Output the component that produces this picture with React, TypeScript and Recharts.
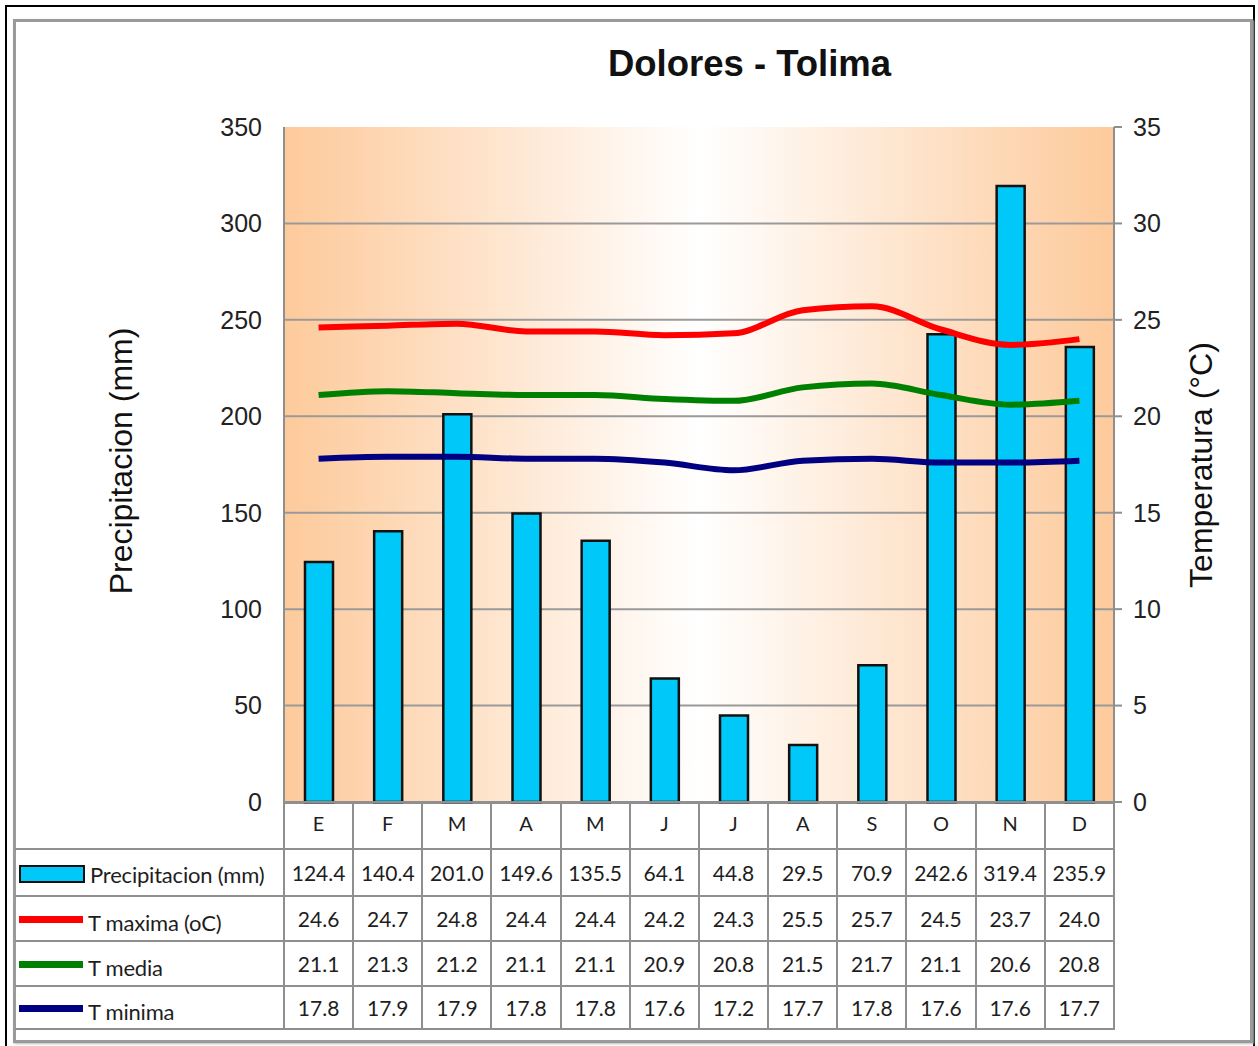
import React from 'react'
import {
  ComposedChart, Bar, Line, XAxis, YAxis, CartesianGrid,
} from 'recharts'

const MONTHS = ['E', 'F', 'M', 'A', 'M', 'J', 'J', 'A', 'S', 'O', 'N', 'D']
const PRECIP = [124.4, 140.4, 201.0, 149.6, 135.5, 64.1, 44.8, 29.5, 70.9, 242.6, 319.4, 235.9]
const T_MAX = [24.6, 24.7, 24.8, 24.4, 24.4, 24.2, 24.3, 25.5, 25.7, 24.5, 23.7, 24.0]
const T_MED = [21.1, 21.3, 21.2, 21.1, 21.1, 20.9, 20.8, 21.5, 21.7, 21.1, 20.6, 20.8]
const T_MIN = [17.8, 17.9, 17.9, 17.8, 17.8, 17.6, 17.2, 17.7, 17.8, 17.6, 17.6, 17.7]
const PRECIP_TICKS = [0, 50, 100, 150, 200, 250, 300, 350]
const TEMP_TICKS = [0, 5, 10, 15, 20, 25, 30, 35]

const data = MONTHS.map((m, i) => ({
  idx: i,
  month: m,
  precip: PRECIP[i],
  tmax: T_MAX[i],
  tmed: T_MED[i],
  tmin: T_MIN[i],
}))

const ROWS = [
  { name: 'Precipitacion (mm)', values: PRECIP, color: '#00c8f8', box: true },
  { name: 'T maxima (oC)', values: T_MAX, color: '#ff0000', box: false },
  { name: 'T media', values: T_MED, color: '#008000', box: false },
  { name: 'T minima', values: T_MIN, color: '#000080', box: false },
]

const PLOT_L = 284
const PLOT_R = 1114
const PLOT_T = 127
const PLOT_B = 802
const COL_W = (PLOT_R - PLOT_L) / MONTHS.length
const GRID = '#8f8f8f'
const SANS = '"Liberation Sans", Arial, sans-serif'
const TABLE_FONT = 'Lato, "Open Sans", sans-serif'

function DataTable() {
  const rowH = [46, 47, 45, 45, 43]
  const cell: React.CSSProperties = {
    border: `2px solid ${GRID}`,
    textAlign: 'center',
    padding: 0,
    fontSize: 21,
    color: '#1e1e1e',
  }
  return (
    <table
      style={{
        position: 'absolute', left: 15, top: PLOT_B, borderCollapse: 'collapse',
        tableLayout: 'fixed', fontFamily: TABLE_FONT,
      }}
    >
      <colgroup>
        <col style={{ width: PLOT_L - 15 }} />
        {MONTHS.map((_, i) => <col key={i} style={{ width: COL_W }} />)}
      </colgroup>
      <tbody>
        <tr style={{ height: rowH[0] }}>
          <td style={{ ...cell, borderTop: 'none', borderLeft: 'none' }} />
          {MONTHS.map((_, i) => <td key={i} style={cell} />)}
        </tr>
        {ROWS.map((r, ri) => (
          <tr key={r.name} style={{ height: rowH[ri + 1] }}>
            <td style={{ ...cell, textAlign: 'left', borderLeft: 'none', whiteSpace: 'nowrap', fontSize: 22, letterSpacing: -0.2 }}>
              <span style={{ display: 'inline-flex', alignItems: 'center', paddingTop: 4 }}>
                <span
                  style={{
                    display: 'inline-block', width: r.box ? 62 : 64, height: r.box ? 14 : 7,
                    background: r.color, border: r.box ? '2.5px solid #111' : 'none',
                    marginLeft: 4, marginRight: 5, marginTop: r.box ? 0 : -6,
                  }}
                />
                <span>{r.name}</span>
              </span>
            </td>
            {r.values.map((v, i) => (
              <td key={i} style={cell}>{v.toFixed(1)}</td>
            ))}
          </tr>
        ))}
      </tbody>
    </table>
  )
}

export default function App() {
  return (
    <div style={{ position: 'absolute', left: 0, top: 0, width: 1258, height: 1046, background: '#fff' }}>
      <div style={{ position: 'absolute', left: 5, top: 5, width: 1246, height: 1050, border: '2px solid #000' }} />
      <div
        style={{
          position: 'absolute', left: 13, top: 19, width: 1234, height: 1018,
          border: '3px solid #9a9a9a', boxShadow: '1px 1px 2px #bbb',
        }}
      />
      <DataTable />
      <div
        style={{
          position: 'absolute', left: 0, top: 43, width: 1499, textAlign: 'center',
          fontFamily: SANS, fontWeight: 'bold', fontSize: 36.5, color: '#111',
        }}
      >
        Dolores - Tolima
      </div>
      <div
        style={{
          position: 'absolute', left: 121, top: 461, transform: 'translate(-50%, -50%) rotate(-90deg)',
          fontFamily: SANS, fontSize: 32, color: '#111', whiteSpace: 'nowrap',
        }}
      >
        Precipitacion (mm)
      </div>
      <div
        style={{
          position: 'absolute', left: 1201, top: 465, transform: 'translate(-50%, -50%) rotate(-90deg)',
          fontFamily: SANS, fontSize: 32, color: '#111', whiteSpace: 'nowrap',
        }}
      >
        Temperatura (°C)
      </div>
      <div style={{ position: 'absolute', left: 0, top: 0 }}>
        <ComposedChart
          width={1258}
          height={1046}
          data={data}
          margin={{ top: PLOT_T, left: PLOT_L - 60, right: 1258 - PLOT_R - 60, bottom: 1046 - PLOT_B - 45 }}
          barCategoryGap={0}
        >
          <defs>
            <linearGradient id="bg" x1="0" y1="0" x2="1" y2="0">
              <stop offset="0%" stopColor="#fdca9b" />
              <stop offset="50%" stopColor="#ffffff" />
              <stop offset="100%" stopColor="#fdca9b" />
            </linearGradient>
          </defs>
          <CartesianGrid
            yAxisId="left"
            vertical={false}
            horizontalValues={[50, 100, 150, 200, 250, 300]}
            stroke="#9a9a9a"
            strokeWidth={2}
            fill="url(#bg)"
            fillOpacity={1}
          />
          <XAxis
            dataKey="idx"
            tickFormatter={(i: number) => MONTHS[i]}
            height={45}
            tickLine={false}
            tickSize={0}
            tickMargin={15}
            axisLine={{ stroke: GRID, strokeWidth: 2 }}
            tick={{ fontSize: 20, fill: '#1e1e1e', fontFamily: TABLE_FONT }}
            interval={0}
          />
          <YAxis
            yAxisId="left"
            domain={[0, 350]}
            ticks={PRECIP_TICKS}
            width={60}
            tickLine={false}
            tickSize={0}
            tickMargin={22}
            axisLine={{ stroke: GRID, strokeWidth: 2 }}
            tick={{ fontSize: 25, fill: '#222', fontFamily: SANS }}
            interval={0}
          />
          <YAxis
            yAxisId="right"
            orientation="right"
            domain={[0, 35]}
            ticks={TEMP_TICKS}
            width={60}
            tickSize={8}
            tickMargin={11}
            tickLine={{ stroke: GRID, strokeWidth: 2 }}
            axisLine={{ stroke: GRID, strokeWidth: 2 }}
            tick={{ fontSize: 25, fill: '#222', fontFamily: SANS }}
            interval={0}
          />
          <Bar
            yAxisId="left"
            dataKey="precip"
            barSize={28}
            fill="#00c8f8"
            stroke="#111"
            strokeWidth={2.5}
            isAnimationActive={false}
          />
          <Line yAxisId="right" type="monotone" dataKey="tmax" stroke="#ff0000" strokeWidth={6} dot={false} isAnimationActive={false} />
          <Line yAxisId="right" type="monotone" dataKey="tmed" stroke="#008000" strokeWidth={6} dot={false} isAnimationActive={false} />
          <Line yAxisId="right" type="monotone" dataKey="tmin" stroke="#000080" strokeWidth={6} dot={false} isAnimationActive={false} />
        </ComposedChart>
      </div>
    </div>
  )
}
